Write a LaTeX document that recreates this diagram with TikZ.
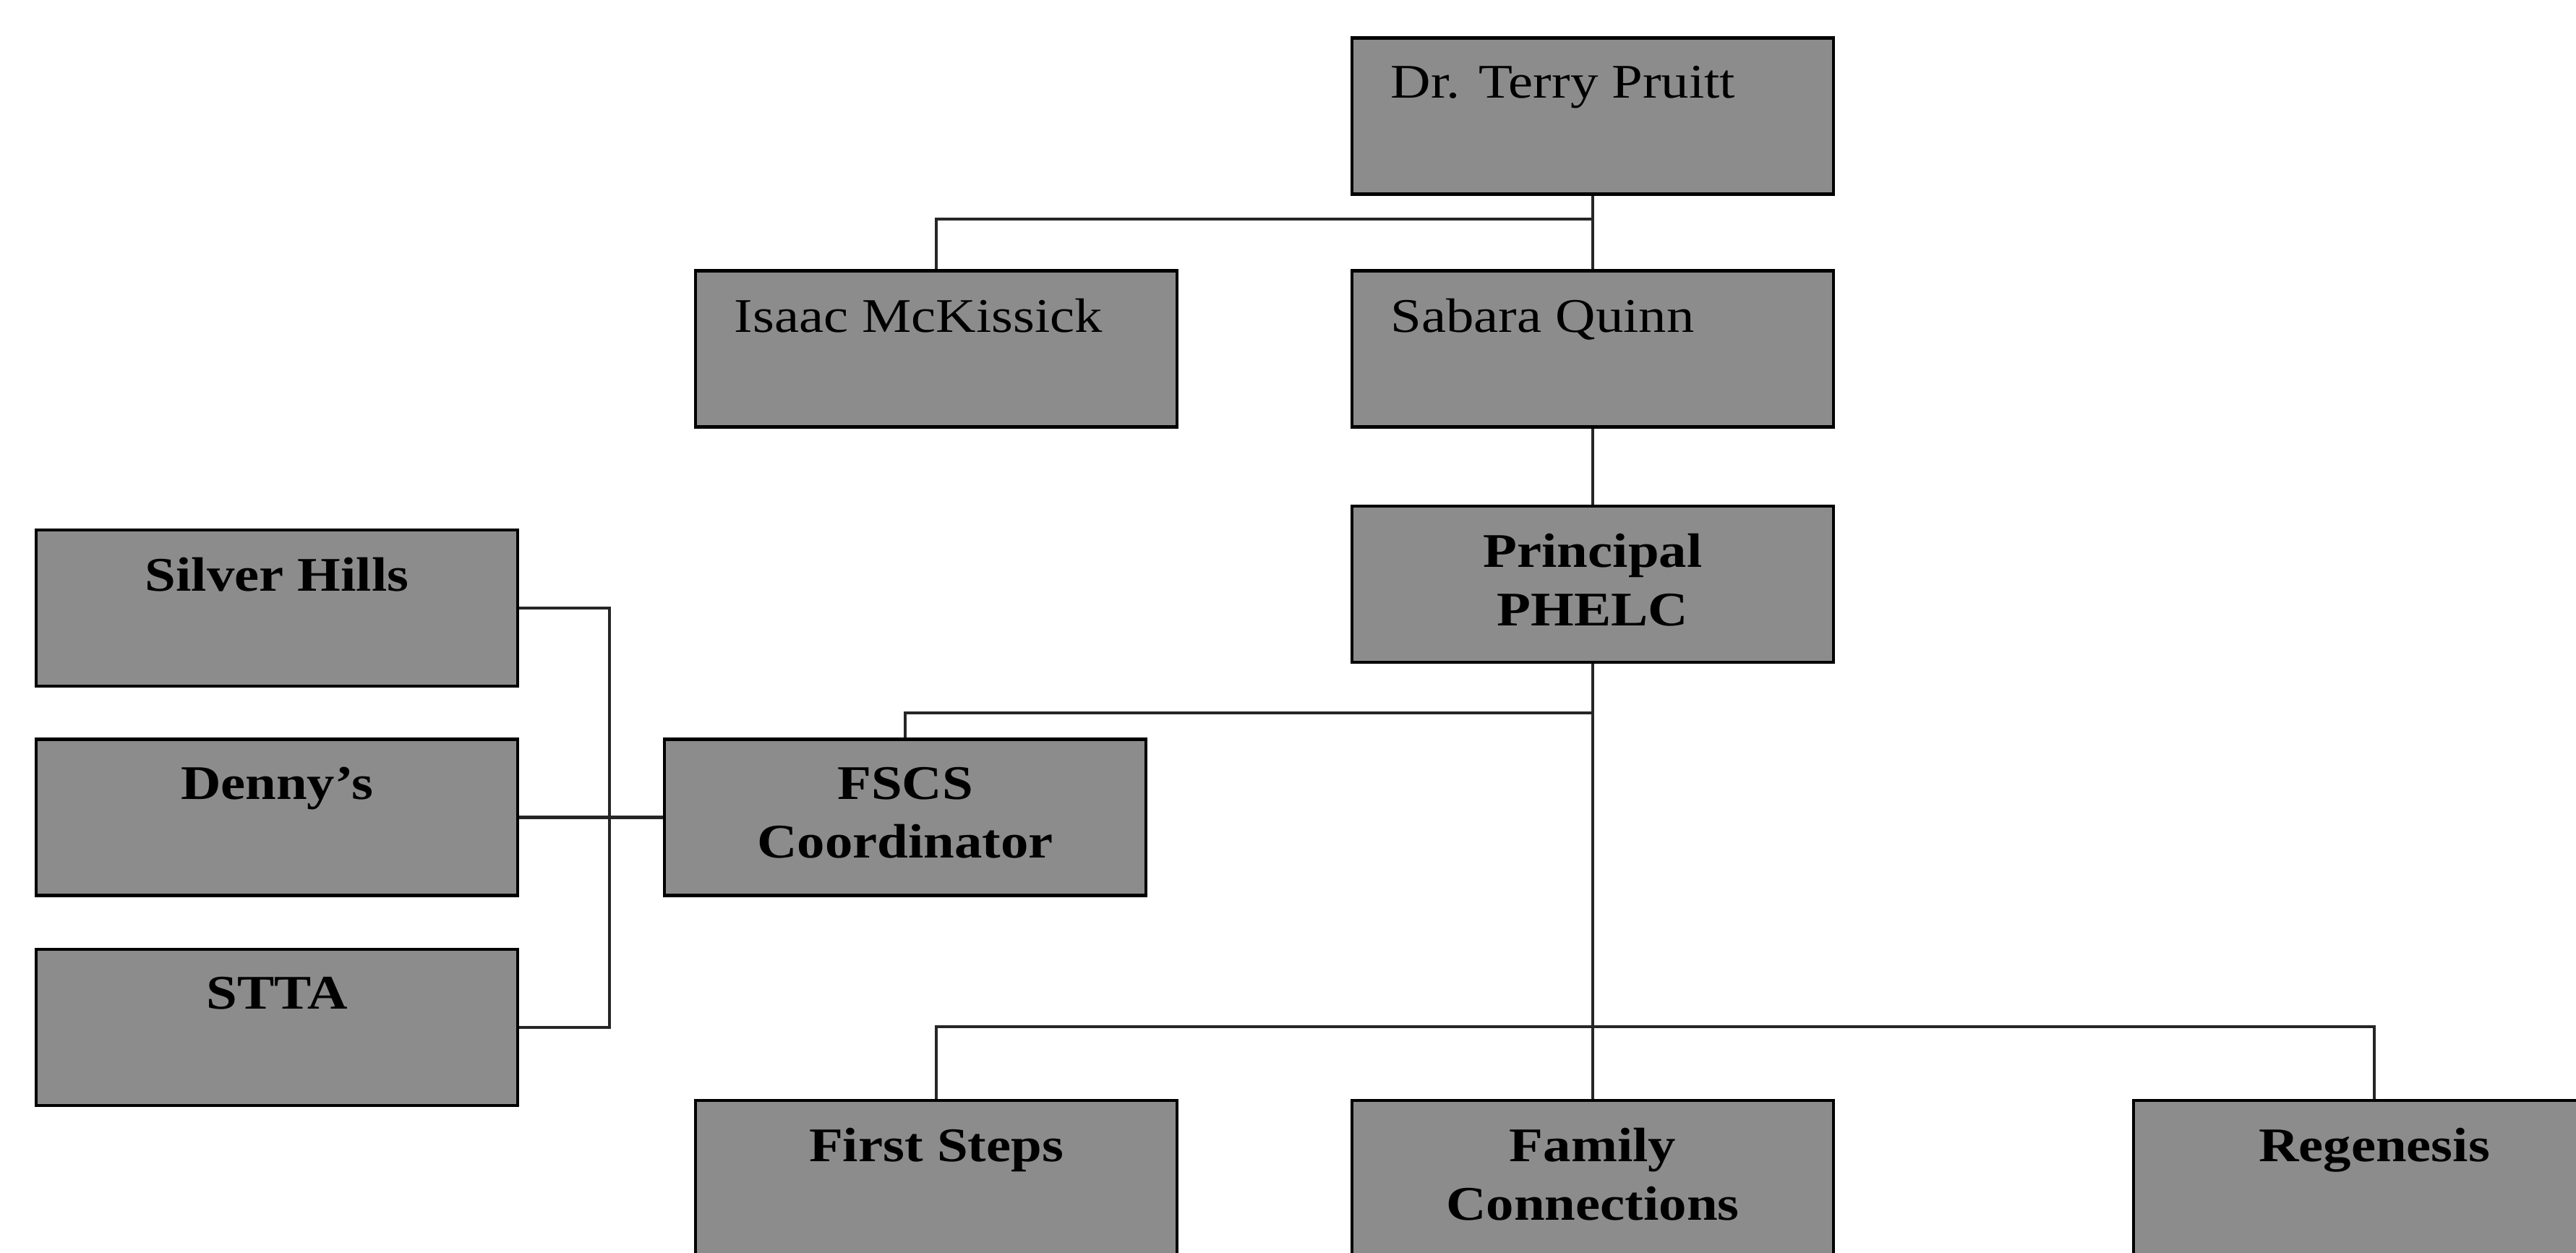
\documentclass[tikz,border=0pt]{standalone}
\usepackage{fontspec}
\setmainfont{Liberation Serif}[FakeStretch=1.15]
\usepackage{tikz}
\newcommand{\orgfont}{\fontsize{19}{23}\selectfont}

\begin{document}
\begin{tikzpicture}[
  box/.style={rectangle, draw=black, line width=1.2pt, fill=black!45, minimum width=6.66cm, minimum height=2.16cm},
  boldbox/.style={box, label={[anchor=north, inner sep=0pt, yshift=-0.4cm, align=center, font=\orgfont\bfseries]north:#1}},
  plainbox/.style={box, label={[anchor=north west, inner sep=0pt, xshift=0.55cm, yshift=-0.4cm, font=\orgfont]north west:#1}},
  link/.style={line width=1.3pt, color=black!85}
]
  \useasboundingbox (0,0) rectangle (35.63,17.32);

  \node[plainbox={Dr. Terry Pruitt}] (pruitt) at (22.03,15.715) {};
  \node[plainbox={Isaac McKissick}] (isaac) at (12.95,12.495) {};
  \node[plainbox={Sabara Quinn}] (sabara) at (22.03,12.495) {};
  \node[boldbox={Principal\\PHELC}] (principal) at (22.03,9.24) {};
  \node[boldbox={Silver Hills}] (silver) at (3.83,8.91) {};
  \node[boldbox={Denny's}] (dennys) at (3.83,6.015) {};
  \node[boldbox={STTA}] (stta) at (3.83,3.11) {};
  \node[boldbox={FSCS\\Coordinator}] (fscs) at (12.52,6.015) {};
  \node[boldbox={First Steps}] (first) at (12.95,1.02) {};
  \node[boldbox={Family\\Connections}] (family) at (22.03,1.02) {};
  \node[boldbox={Regenesis}] (regen) at (32.84,1.02) {};

  \coordinate (topbus) at (22.03,14.29);
  \coordinate (midbus) at (22.03,7.46);
  \coordinate (lowbus) at (22.03,3.12);
  \coordinate (leftbus) at (8.43,0);

  \draw[link] (pruitt.south) -- (sabara.north);
  \draw[link] (isaac.north) |- (topbus);
  \draw[link] (sabara.south) -- (principal.north);
  \draw[link] (principal.south) -- (family.north);
  \draw[link] (fscs.north) |- (midbus);
  \draw[link] (first.north) |- (lowbus) -| (regen.north);
  \draw[link] (silver.east) -| (leftbus |- stta.east) -- (stta.east);
  \draw[link] (dennys.east) -- (fscs.west);
\end{tikzpicture}
\end{document}
